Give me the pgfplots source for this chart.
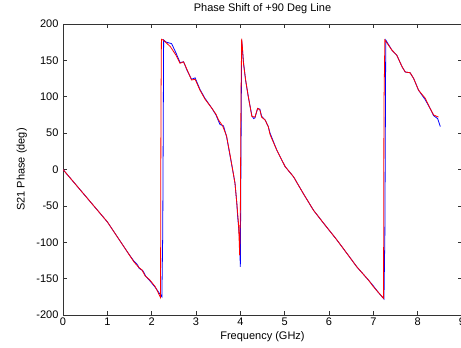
\documentclass[border=0pt]{standalone}
\usepackage{pgfplots}
\pgfplotsset{compat=1.18}
\usepackage{fontspec}
\setmainfont{Liberation Sans}
\begin{document}
\begin{tikzpicture}
\begin{axis}[
  name=ax,
  scale only axis,
  width=399bp, height=291bp,
  xmin=0, xmax=9, ymin=-200, ymax=200,
  xtick={0,1,...,9}, ytick={-200,-150,...,200},
  tick align=inside,
  major tick length=4bp,
  axis line style={black!80, line width=0.6pt},
  tick style={black!80, line width=0.5pt},
  font=\fontsize{11bp}{13bp}\selectfont,
  /pgf/number format/assume math mode=true,
  xticklabel style={yshift=1bp},
  yticklabel style={xshift=-1bp},
  every axis title shift=0pt,
  title={Phase Shift of +90 Deg Line},
  title style={at={(axis description cs:0.5,1)}, anchor=center, yshift=15bp},
  xlabel={Frequency (GHz)},
  xlabel style={at={(axis description cs:0.5,-0.0756)}, anchor=center},
  ylabel={S21 Phase (deg)},
  ylabel style={at={(axis description cs:-0.103,0.5)}, anchor=center},
  clip=true,
]
\addplot[blue, line width=0.8pt] coordinates {
(0,0) (0.5,-36) (1,-72) (1.47,-115) (1.6,-126) (1.68,-131) (1.72,-136) (1.8,-139)
(1.87,-147) (1.96,-153) (2.08,-162) (2.23,-175) (2.25,-87) (2.27,178) (2.33,175)
(2.45,173) (2.55,160) (2.64,147) (2.72,148) (2.8,136) (2.9,124) (2.98,126) (3.09,110)
(3.2,98) (3.36,84) (3.45,75) (3.54,62) (3.62,60) (3.69,45) (3.78,15) (3.84,-5)
(3.88,-19) (3.92,-46) (3.94,-65) (3.98,-92) (4.00,-134) (4.03,178) (4.07,148)
(4.12,122) (4.18,100) (4.26,74) (4.30,70) (4.33,71) (4.39,84) (4.44,83) (4.48,73)
(4.56,68) (4.63,59) (4.67,50) (4.82,27) (5.01,4) (5.20,-10) (5.42,-33) (5.65,-56)
(5.88,-74) (6.18,-97) (6.40,-115) (6.63,-134) (6.89,-152) (7.0,-160) (7.1,-168)
(7.24,-178) (7.26,-90) (7.28,178) (7.42,164) (7.53,157) (7.65,141) (7.72,134)
(7.83,133) (7.91,125) (8.02,109) (8.17,96) (8.28,84) (8.36,74) (8.45,70) (8.51,59)
};
\addplot[red, line width=0.8pt] coordinates {
(0,0) (0.5,-36) (1,-72) (1.47,-115) (1.6,-127) (1.7,-134) (1.78,-138) (1.85,-146)
(1.96,-152) (2.08,-161) (2.2,-176) (2.21,91) (2.22,179) (2.26,178) (2.42,169)
(2.55,157) (2.64,146) (2.72,148) (2.8,137) (2.9,123) (2.98,124) (3.09,109) (3.2,97)
(3.36,84) (3.45,76) (3.51,68) (3.6,60) (3.69,46) (3.78,16) (3.84,-5) (3.88,-19)
(3.92,-46) (3.96,-75) (3.985,-118) (4.00,-60) (4.015,102) (4.03,180) (4.05,165)
(4.07,146) (4.12,123) (4.18,100) (4.26,73) (4.33,72) (4.39,84) (4.44,82) (4.48,72)
(4.56,68) (4.63,59) (4.67,48) (4.82,27) (5.01,4) (5.20,-10) (5.42,-33) (5.65,-56)
(5.88,-74) (6.18,-97) (6.40,-115) (6.63,-134) (6.89,-152) (7.0,-161) (7.1,-168)
(7.23,-177) (7.24,89) (7.26,178) (7.42,164) (7.53,157) (7.65,141) (7.72,134)
(7.83,133) (7.91,125) (8.02,109) (8.17,98) (8.28,84) (8.36,75) (8.47,72)
};
\end{axis}
\pgfresetboundingbox
\path ([xshift=-63bp,yshift=-33bp]ax.south west) rectangle ([xshift=398bp,yshift=24bp]ax.north west);
\end{tikzpicture}
\end{document}
